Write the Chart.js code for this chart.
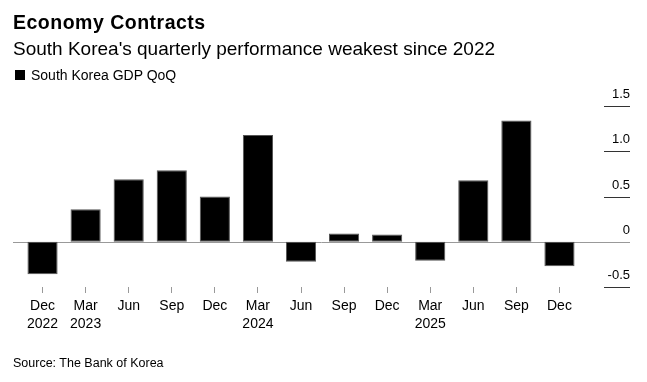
<!DOCTYPE html>
<html>
<head>
<meta charset="utf-8">
<script src="https://cdn.jsdelivr.net/npm/chart.js@4/dist/chart.umd.min.js"></script>
<style>
  html, body { margin: 0; padding: 0; background: #fff; }
  #wrap { position: relative; width: 647px; height: 382px; overflow: hidden; font-family: "Liberation Sans", Arial, sans-serif; color: #000; }
  #c { position: absolute; left: 0; top: 0; }
  .t { position: absolute; white-space: nowrap; }
  #title { left: 13px; top: 9.5px; font-size: 19.5px; line-height: 24px; font-weight: bold; letter-spacing: 0.5px; }
  #subtitle { left: 13px; top: 38.4px; font-size: 19px; line-height: 22px; }
  #legend { left: 31px; top: 65.5px; font-size: 14px; line-height: 18px; }
  #swatch { position: absolute; left: 15px; top: 70px; width: 10px; height: 10px; background: #000; }
  #source { left: 13px; top: 355px; font-size: 12.5px; line-height: 16px; }
</style>
</head>
<body>
<div id="wrap">
  <canvas id="c" width="647" height="382"></canvas>
  <div class="t" id="title">Economy Contracts</div>
  <div class="t" id="subtitle">South Korea's quarterly performance weakest since 2022</div>
  <div id="swatch"></div>
  <div class="t" id="legend">South Korea GDP QoQ</div>
  <div class="t" id="source">Source: The Bank of Korea</div>
</div>
<script>
// ---- data ----
const months = ['Dec','Mar','Jun','Sep','Dec','Mar','Jun','Sep','Dec','Mar','Jun','Sep','Dec'];
const years  = ['2022','2023','','','','2024','','','','2025','','',''];
const gdpQoQ = [-0.36, 0.36, 0.69, 0.79, 0.50, 1.18, -0.22, 0.09, 0.08, -0.21, 0.68, 1.34, -0.27];
const yTickValues = [-0.5, 0, 0.5, 1.0, 1.5];
const yTickLabels = ['-0.5', '0', '0.5', '1.0', '1.5'];
const seriesName = 'South Korea GDP QoQ';

const labels = months.map((m, i) => years[i] ? [m, years[i]] : [m]);

const rightAxisPlugin = {
  id: 'rightAxis',
  beforeDatasetsDraw(chart) {
    const y = chart.scales.y;
    const ctx = chart.ctx;
    const p0 = Math.round(y.getPixelForValue(0)) + 0.5;
    ctx.save();
    ctx.strokeStyle = '#999';
    ctx.lineWidth = 1;
    ctx.beginPath();
    ctx.moveTo(13, p0);
    ctx.lineTo(630, p0);
    ctx.stroke();
    ctx.restore();
  },
  afterDraw(chart) {
    const y = chart.scales.y;
    const ctx = chart.ctx;
    ctx.save();
    ctx.font = '13px "Liberation Sans", Arial, sans-serif';
    ctx.textAlign = 'right';
    ctx.textBaseline = 'alphabetic';
    ctx.fillStyle = '#000';
    y.ticks.forEach(t => {
      const py = Math.round(y.getPixelForValue(t.value)) + 0.5;
      if (t.value !== 0) {
        ctx.strokeStyle = '#333';
        ctx.lineWidth = 1;
        ctx.beginPath();
        ctx.moveTo(604, py);
        ctx.lineTo(630, py);
        ctx.stroke();
      }
      ctx.fillText(t.label, 630, py - 9);
    });
    ctx.restore();
  }
};

new Chart(document.getElementById('c'), {
  type: 'bar',
  data: {
    labels: labels,
    datasets: [{
      label: seriesName,
      data: gdpQoQ,
      backgroundColor: '#000',
      borderColor: '#555',
      borderWidth: 1,
      borderSkipped: false,
      barPercentage: 0.7,
      categoryPercentage: 1.0
    }]
  },
  options: {
    responsive: false,
    animation: false,
    layout: { padding: { left: 21, right: 66, top: 106, bottom: 0 } },
    plugins: { legend: { display: false }, title: { display: false }, tooltip: { enabled: false } },
    scales: {
      x: {
        grid: { display: true, drawOnChartArea: false, drawTicks: true, tickLength: 6, color: '#999', offset: false },
        border: { display: false },
        ticks: {
          color: '#000',
          padding: 4,
          maxRotation: 0,
          autoSkip: false,
          font: { family: '"Liberation Sans", Arial, sans-serif', size: 14, lineHeight: 18 / 14 }
        },
        afterFit(scale) { scale.height = 95; }
      },
      y: {
        position: 'right',
        min: -0.5,
        max: 1.5,
        afterBuildTicks(scale) { scale.ticks = yTickValues.map(v => ({ value: v })); },
        ticks: {
          display: false,
          callback(value) { const i = yTickValues.indexOf(value); return i >= 0 ? yTickLabels[i] : ''; }
        },
        grid: { display: false },
        border: { display: false },
        afterFit(scale) { scale.width = 0; }
      }
    }
  },
  plugins: [rightAxisPlugin]
});
</script>
</body>
</html>
